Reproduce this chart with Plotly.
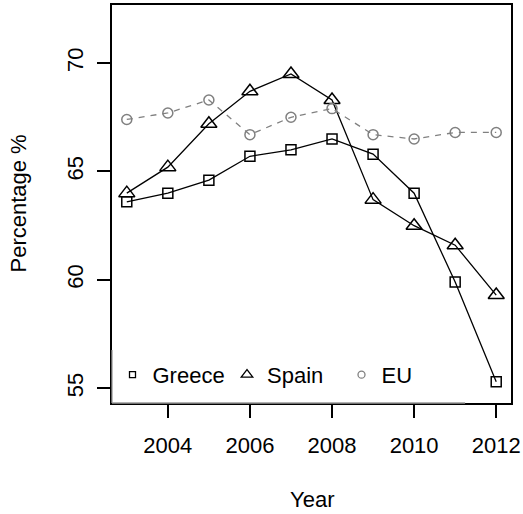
import plotly.graph_objects as go

years = [2003, 2004, 2005, 2006, 2007, 2008, 2009, 2010, 2011, 2012]
greece = [63.6, 64.0, 64.6, 65.7, 66.0, 66.5, 65.8, 64.0, 59.9, 55.3]
spain = [64.0, 65.2, 67.2, 68.7, 69.5, 68.3, 63.7, 62.5, 61.6, 59.3]
eu = [67.4, 67.7, 68.3, 66.7, 67.5, 67.9, 66.7, 66.5, 66.8, 66.8]
x_ticks = [2004, 2006, 2008, 2010, 2012]
y_ticks = [55, 60, 65, 70]
series_names = ["Greece", "Spain", "EU"]
x_title = "Year"
y_title = "Percentage %"

FONT = "Liberation Sans, Arial, Helvetica, sans-serif"
GRAY = "#808080"

fig = go.Figure()

styles = [
    (greece, "black", "square-open", 10, "solid", 6),
    (spain, "black", "triangle-up-open", 14, "solid", 10),
    (eu, GRAY, "circle-open", 10, "dash", 7),
]

for name, (vals, col, sym, sz, dash, lsz) in zip(series_names, styles):
    fig.add_trace(go.Scatter(
        x=years, y=vals, mode="lines+markers", showlegend=False,
        line=dict(color=col, width=1.3, dash="6px,6px" if dash == "dash" else "solid"),
        marker=dict(symbol=sym, size=sz, color=col, line=dict(color=col, width=1.5)),
    ))

for name, (vals, col, sym, sz, dash, lsz) in zip(series_names, styles):
    fig.add_trace(go.Scatter(
        x=[None], y=[None], mode="markers", name=name, showlegend=True,
        marker=dict(symbol=sym, size=lsz, color=col, line=dict(color=col, width=1.3)),
    ))

fig.update_layout(
    width=523, height=514,
    margin=dict(l=112, r=12, t=5, b=111, autoexpand=False),
    paper_bgcolor="white", plot_bgcolor="white",
    font=dict(family=FONT, size=22, color="black"),
    legend=dict(
        orientation="h", xref="container", x=112.5 / 523, xanchor="left",
        y=0.018, yanchor="bottom",
        bgcolor="rgba(0,0,0,0)", borderwidth=0,
        font=dict(family=FONT, size=22, color="black"),
        itemwidth=30, entrywidth=69.5, entrywidthmode="pixels",
    ),
    shapes=[
        dict(type="rect", xref="paper", yref="paper", x0=0, x1=0.885, y0=0, y1=0.133,
             fillcolor="white", line=dict(width=0), layer="above"),
        dict(type="line", xref="paper", yref="paper", x0=0, x1=0, y0=0, y1=0.133,
             line=dict(color="#999999", width=1.3), layer="above"),
        dict(type="line", xref="paper", yref="paper", x0=0, x1=0.885, y0=0, y1=0,
             line=dict(color="#999999", width=1.3), layer="above"),
    ],
    annotations=[
        dict(text=x_title, xref="paper", yref="paper", x=0.5, y=-0.2437,
             xanchor="center", yanchor="middle", showarrow=False,
             font=dict(family=FONT, size=22)),
        dict(text=y_title, xref="paper", yref="paper", x=-0.2368, y=0.5,
             xanchor="center", yanchor="middle", showarrow=False, textangle=-90,
             font=dict(family=FONT, size=22)),
    ],
)

fig.update_xaxes(
    range=[2002.64, 2012.36], tickmode="array", tickvals=x_ticks,
    ticktext=[str(v) for v in x_ticks], automargin=False,
    ticks="outside", ticklen=13, tickwidth=1.5, tickcolor="black",
    showline=True, mirror=True, linecolor="black", linewidth=1.5,
    showgrid=False, zeroline=False,
    tickfont=dict(family=FONT, size=22),
    ticklabelstandoff=9,
)
fig.update_yaxes(
    range=[54.32, 72.68], tickmode="array", tickvals=y_ticks,
    ticktext=[str(v) for v in y_ticks], tickangle=-90, automargin=False,
    ticks="outside", ticklen=13, tickwidth=1.5, tickcolor="black",
    showline=True, mirror=True, linecolor="black", linewidth=1.5,
    showgrid=False, zeroline=False,
    tickfont=dict(family=FONT, size=22),
    ticklabelstandoff=5,
)

fig.write_html("out.html", config={"displayModeBar": False},
               post_script="document.body.style.margin='0px';")
